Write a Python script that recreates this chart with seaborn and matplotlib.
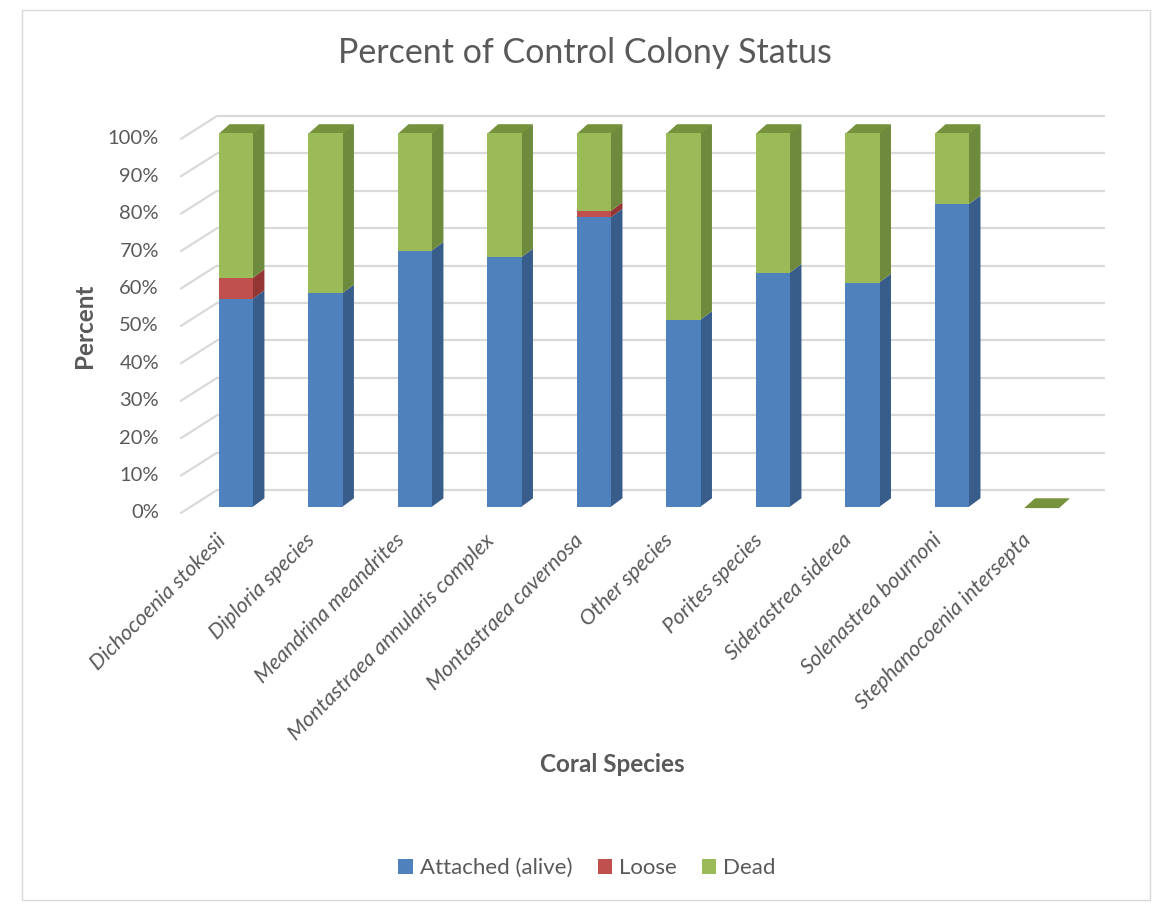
import numpy as np
import pandas as pd
import matplotlib
matplotlib.use("Agg")
import matplotlib.pyplot as plt
from matplotlib.patches import Polygon, Patch, Rectangle
import seaborn as sns

# Colony status per coral species (percent of control colonies)
species = [
    "Dichocoenia stokesii", "Diploria species", "Meandrina meandrites",
    "Montastraea annularis complex", "Montastraea cavernosa", "Other species",
    "Porites species", "Siderastrea siderea", "Solenastrea bournoni",
    "Stephanocoenia intersepta",
]
attached = [55.6, 57.1, 68.5, 66.7, 77.4, 50.0, 62.6, 60.0, 80.9, 0.0]
loose = [5.6, 0.0, 0.0, 0.0, 1.7, 0.0, 0.0, 0.0, 0.0, 0.0]
dead = [38.8, 42.9, 31.5, 33.3, 20.9, 50.0, 37.4, 40.0, 19.1, 0.0]
series_names = ["Attached (alive)", "Loose", "Dead"]
y_ticks = list(range(0, 101, 10))

front = {"Attached (alive)": "#4F81BD", "Loose": "#C0504D", "Dead": "#9BBB59"}
side = {"Attached (alive)": "#385D8A", "Loose": "#943634", "Dead": "#6E8B3D"}
top = {"Attached (alive)": "#4574AD", "Loose": "#A94441", "Dead": "#76923C"}
text_col = "#595959"
grid_col = "#D9D9D9"

sns.set_theme(style="white")
plt.rcParams["font.family"] = ["Lato", "DejaVu Sans"]

df = pd.DataFrame({"species": species, "Attached (alive)": attached,
                   "Loose": loose, "Dead": dead})
df["cum_att"] = df["Attached (alive)"]
df["cum_loose"] = df["cum_att"] + df["Loose"]
df["cum_dead"] = df["cum_loose"] + df["Dead"]

W, H = 1161, 905
fig = plt.figure(figsize=(W / 100, H / 100), dpi=100)
fig.patch.set_facecolor("white")

# axes box in pixels: x 170..1110, y 100..530
ax = fig.add_axes([170 / W, 1 - 530 / H, 940 / W, 430 / H])

# back wall gridlines with the receding floor edge on the left
back_dy = 4.55
for v in y_ticks:
    ax.plot([-0.21, 9.71], [v + back_dy, v + back_dy], color=grid_col, lw=1.6,
            zorder=0.5, solid_capstyle="butt")
    ax.plot([-0.615, -0.21], [v - 1.6, v + back_dy], color=grid_col, lw=1.6,
            zorder=0.5)
    ax.text(-0.86, v - 1.6, f"{v}%", ha="right", va="center",
            fontsize=14.5, color=text_col)

# front faces, stacked by overlaying cumulative totals
bar_w = 0.39
for col, name in [("cum_dead", "Dead"), ("cum_loose", "Loose"),
                  ("cum_att", "Attached (alive)")]:
    sns.barplot(data=df, x="species", y=col, color=front[name], width=bar_w,
                saturation=1, ax=ax, zorder=3, linewidth=0)
ax.set_xlim(-0.737, 9.765)
ax.set_ylim(-6.15, 108.8)
ax.axis("off")

# depth faces (right side and top) drawn from the same values
ddx, ddy = 0.123, 2.33
for i in range(len(species)):
    lo = 0.0
    segs = [("Attached (alive)", attached[i]), ("Loose", loose[i]), ("Dead", dead[i])]
    xr = i + bar_w / 2
    xl = i - bar_w / 2
    last = "Dead"
    for name, val in segs:
        hi = lo + val
        if val > 0:
            ax.add_patch(Polygon([(xr - 0.01, lo), (xr + ddx, lo + ddy),
                                  (xr + ddx, hi + ddy), (xr - 0.01, hi)],
                                 closed=True, facecolor=side[name],
                                 edgecolor="none", zorder=2.9))
            last = name
        lo = hi
    ax.add_patch(Polygon([(xl, lo - 0.3), (xl + ddx, lo + ddy),
                          (xr + ddx, lo + ddy), (xr, lo - 0.3)],
                         closed=True, facecolor=top[last],
                         edgecolor="none", zorder=2.95))

# rotated category labels
for i, name in enumerate(species):
    ax.text(i - 0.23, -6.2, name, rotation=45, rotation_mode="anchor",
            ha="right", va="top", fontsize=15.5, style="italic",
            color=text_col, clip_on=False)

fig.text(585 / W, 1 - 53 / H, "Percent of Control Colony Status",
         ha="center", va="center", fontsize=24.5, color=text_col)
fig.text(612 / W, 1 - 765 / H, "Coral Species", ha="center", va="center",
         fontsize=17.5, fontweight="bold", color=text_col)
fig.text(85 / W, 1 - 326 / H, "Percent", ha="center", va="center",
         rotation=90, fontsize=17.5, fontweight="bold", color=text_col)

handles = [Patch(facecolor=front[n], edgecolor="none", label=n) for n in series_names]
fig.legend(handles=handles, loc="center", bbox_to_anchor=(587 / W, 1 - 868 / H),
           ncol=3, frameon=False, fontsize=16, handlelength=0.65,
           handleheight=0.65, handletextpad=0.3, columnspacing=1.15,
           labelcolor=text_col)

# outer chart frame
fig.add_artist(Rectangle((22 / W, 1 - 900 / H), 1128 / W, 890 / H,
                         transform=fig.transFigure, fill=False,
                         edgecolor="#D9D9D9", lw=1))

fig.savefig("out.png", dpi=100)
